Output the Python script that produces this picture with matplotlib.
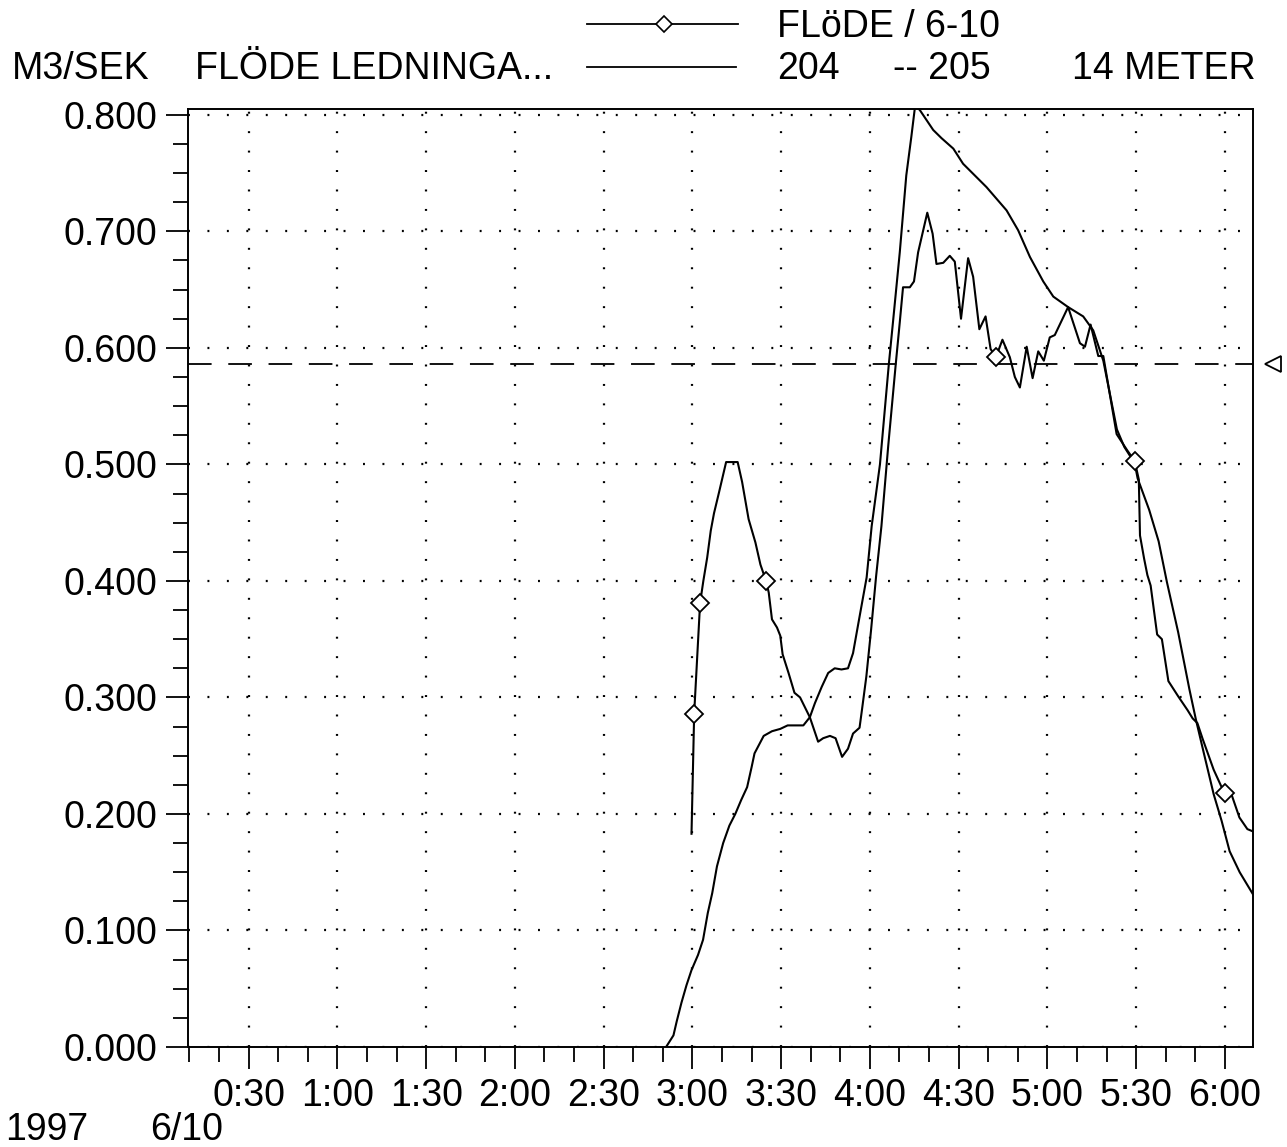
import matplotlib
matplotlib.use("Agg")
import matplotlib.pyplot as plt
from matplotlib.ticker import MultipleLocator, FuncFormatter
from matplotlib.transforms import blended_transform_factory
from matplotlib.lines import Line2D

plt.rcParams['font.family'] = ['Liberation Sans', 'DejaVu Sans']
plt.rcParams['lines.scale_dashes'] = False

# ---- data (time in minutes after midnight, flow in m3/s) ----
flode_t = [179.7, 180.6, 182.6, 183.7, 185.0, 186.2, 187.3, 189.0, 191.4, 195.3,
           196.8, 199.0, 201.3, 203.0, 204.9, 205.8, 206.9, 208.6, 209.7, 210.5,
           212.5, 214.5, 216.4, 219.7, 222.5, 224.2, 226.5, 228.4, 230.6, 232.6,
           234.3, 236.5, 237.3, 238.8, 240.4, 242.1, 243.9, 246.2, 248.7, 250.1,
           251.2, 253.5, 254.9, 256.3, 259.4, 261.2, 262.5, 264.8, 267.0, 268.7,
           270.8, 273.2, 274.9, 277.0, 279.1, 280.8, 282.6, 284.8, 287.3, 289.0,
           290.7, 293.0, 295.0, 296.9, 298.8, 300.8, 302.5, 307.0, 311.0, 312.7,
           314.6, 317.2, 318.9, 323.4, 327.0, 329.5, 330.9, 331.3, 332.7, 333.8,
           334.9, 337.1, 338.7, 340.9, 344.2, 347.4, 349.1, 350.7, 352.4, 356.2,
           358.9, 360.2, 362.2, 364.9, 367.6, 369.5]
flode_v = [0.183, 0.286, 0.381, 0.400, 0.420, 0.443, 0.458, 0.476, 0.502, 0.502,
           0.485, 0.453, 0.433, 0.414, 0.400, 0.390, 0.367, 0.360, 0.353, 0.337,
           0.321, 0.304, 0.300, 0.283, 0.262, 0.265, 0.267, 0.265, 0.249, 0.256,
           0.269, 0.274, 0.289, 0.318, 0.358, 0.404, 0.447, 0.516, 0.585, 0.622,
           0.652, 0.652, 0.657, 0.682, 0.716, 0.698, 0.672, 0.673, 0.679, 0.674,
           0.625, 0.677, 0.661, 0.616, 0.627, 0.599, 0.592, 0.607, 0.592, 0.575,
           0.566, 0.601, 0.574, 0.597, 0.589, 0.609, 0.611, 0.635, 0.604, 0.601,
           0.620, 0.593, 0.593, 0.526, 0.512, 0.503, 0.487, 0.439, 0.419, 0.405,
           0.396, 0.354, 0.350, 0.314, 0.301, 0.289, 0.282, 0.278, 0.265, 0.238,
           0.223, 0.218, 0.217, 0.197, 0.187, 0.185]
flode_marker_t = [180.6, 182.6, 204.9, 282.6, 329.5, 360.2]

pipe_t = [171.1, 173.6, 174.7, 176.3, 178.0, 179.7, 181.9, 183.6, 185.2, 186.7,
          188.3, 190.4, 192.5, 194.5, 196.5, 198.5, 200.0, 201.0, 204.1, 206.9,
          209.7, 212.2, 217.5, 219.7, 221.4, 223.7, 225.9, 228.1, 230.4, 232.6,
          234.3, 236.2, 238.9, 240.6, 243.4, 246.4, 247.8, 250.1, 252.3, 254.0,
          255.3, 256.9, 261.4, 264.2, 268.2, 271.5, 279.4, 286.2, 290.1, 294.1,
          298.6, 302.0, 307.0, 312.1, 315.5, 318.9, 323.5, 326.0, 329.5, 330.5,
          334.4, 337.6, 340.4, 344.2, 348.0, 350.2, 352.9, 356.2, 358.9, 361.6,
          365.0, 369.5]
pipe_v = [0.000, 0.010, 0.022, 0.038, 0.053, 0.066, 0.079, 0.092, 0.115, 0.132,
          0.155, 0.175, 0.190, 0.200, 0.212, 0.223, 0.240, 0.252, 0.267, 0.271,
          0.273, 0.276, 0.276, 0.283, 0.295, 0.309, 0.321, 0.325, 0.324, 0.325,
          0.338, 0.365, 0.403, 0.447, 0.500, 0.586, 0.622, 0.682, 0.748, 0.781,
          0.808, 0.804, 0.787, 0.780, 0.771, 0.758, 0.738, 0.718, 0.701, 0.678,
          0.657, 0.644, 0.635, 0.627, 0.615, 0.589, 0.530, 0.515, 0.501, 0.488,
          0.461, 0.434, 0.399, 0.356, 0.307, 0.281, 0.252, 0.217, 0.194, 0.168,
          0.150, 0.131]

limit_level = 0.586

W, H = 1287, 1147
fig = plt.figure(figsize=(W / 100, H / 100), dpi=100)
ax = fig.add_axes([188 / W, 1 - 1047 / H, (1253 - 188) / W, (1047 - 109) / H])

FS = 27
ink = 'black'

# measured series
mark_idx = [flode_t.index(m) for m in flode_marker_t]
ax.plot(flode_t, flode_v, color=ink, lw=1.5, marker='D', markersize=9,
        markerfacecolor='white', markeredgecolor=ink, markeredgewidth=1.3,
        markevery=mark_idx, zorder=4)
ax.plot(pipe_t, pipe_v, color=ink, lw=1.5, zorder=3)

# limit level
ax.axhline(limit_level, color=ink, lw=1.3, dashes=(17, 12), zorder=2)
trans = blended_transform_factory(ax.transAxes, ax.transData)
ax.plot([1.019], [limit_level], transform=trans, marker='<', markersize=12,
        markerfacecolor='white', markeredgecolor=ink, markeredgewidth=1.3,
        clip_on=False, linestyle='none')

# axes
ax.set_xlim(9.5, 369.5)
ax.set_ylim(0.0, 0.805)
ax.xaxis.set_major_locator(MultipleLocator(30))
ax.xaxis.set_minor_locator(MultipleLocator(10))
ax.yaxis.set_major_locator(MultipleLocator(0.1))
ax.yaxis.set_minor_locator(MultipleLocator(0.025))
ax.xaxis.set_major_formatter(FuncFormatter(lambda m, _: f"{int(m // 60)}:{int(m % 60):02d}"))
ax.yaxis.set_major_formatter(FuncFormatter(lambda v, _: f"{v:.3f}"))
ax.tick_params(which='both', direction='out', color=ink, width=1.3,
               labelsize=FS, labelcolor=ink, top=False, right=False)
ax.tick_params(which='major', length=16, pad=6)
ax.tick_params(which='minor', length=10.5)
for s in ax.spines.values():
    s.set_linewidth(1.4)
    s.set_color(ink)

ax.grid(which='major', color=ink, lw=1.6, dashes=(1.4, 12.6), dash_capstyle='butt')
ax.set_axisbelow(True)

# header
def ftext(x, y, s, **kw):
    fig.text(x / W, 1 - y / H, s, fontsize=FS, color=ink, va='baseline', **kw)

ftext(12, 79, "M3/SEK")
ftext(195, 79, "FLÖDE LEDNINGA...")
ftext(777, 79, "204")
ftext(893, 79, "-- 205")
ftext(1256, 79, "14 METER", ha='right')
ftext(777, 37, "FLöDE / 6-10")
ftext(5, 1140, "1997")
ftext(150, 1140, "6/10")

fig.add_artist(Line2D([587 / W, 736 / W], [1 - 67 / H, 1 - 67 / H], color=ink, lw=1.3))
fig.add_artist(Line2D([587 / W, 738 / W], [1 - 24 / H, 1 - 24 / H], color=ink, lw=1.3))
fig.add_artist(Line2D([664 / W], [1 - 24 / H], marker='D', markersize=8,
                      markerfacecolor='white', markeredgecolor=ink, markeredgewidth=1.2))

fig.savefig("out.png", dpi=100, facecolor='white')
